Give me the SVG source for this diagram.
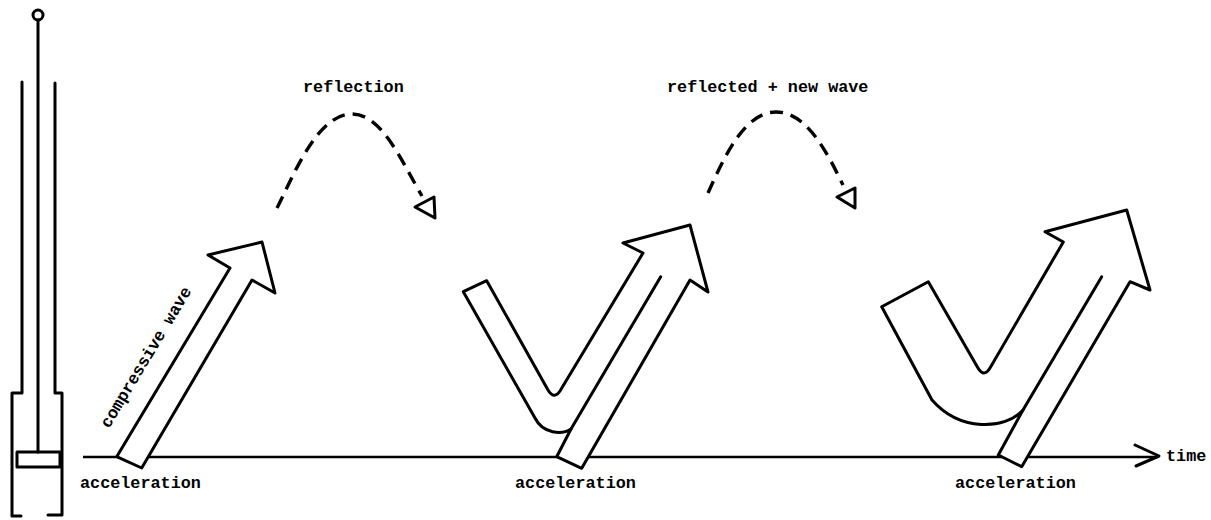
<svg xmlns="http://www.w3.org/2000/svg" width="1211" height="520" viewBox="0 0 1211 520">
  <style>
    .ln { fill: none; stroke: #000; stroke-width: 3; stroke-linecap: round; stroke-linejoin: round; }
    .shape { fill: #fff; stroke: #000; stroke-width: 3; stroke-linejoin: round; }
    .dash { fill: none; stroke: #000; stroke-width: 3.4; stroke-dasharray: 13 8; stroke-linecap: butt; }
    .head { fill: #fff; stroke: #000; stroke-width: 3; stroke-linejoin: round; }
    .lbl { font-family: "Liberation Mono", "DejaVu Sans Mono", monospace; font-size: 16.8px; font-weight: bold; fill: #000; }
  </style>

  <!-- tube with rod and piston -->
  <g id="apparatus">
    <circle cx="38" cy="15" r="5" class="ln"/>
    <line x1="38" y1="20" x2="38" y2="452" class="ln"/>
    <polyline points="22,82 22,393 12,393 12,516 21,516" class="ln"/>
    <polyline points="55,83 55,393 62,393 62,515 48,515" class="ln"/>
    <rect x="17" y="452" width="43" height="15" class="ln"/>
  </g>

  <!-- time axis and reflection paths -->
  <g id="connectors">
    <line x1="83" y1="457" x2="1158" y2="457" stroke="#000" stroke-width="2.4"/>
    <polyline points="1135,445 1159,456 1136,466" class="ln" stroke-width="3.5"/>
    <path d="M277,208 C295,172 318,114 352,114 C382,114 402,162 422,196" class="dash"/>
    <polygon points="415,207 434,197 435,218" class="head"/>
    <path d="M708,193 C725,155 745,112 776,112 C806,112 826,150 843,185" class="dash"/>
    <polygon points="837,197 855,188 855,208" class="head"/>
  </g>

  <!-- incident compressive wave -->
  <g id="wave1">
    <path d="M116.7,456.7 L230,268 L208,255 L262,242 L275,293 L252,280 L141.7,468 Z" class="shape"/>
    <text class="lbl" transform="translate(109,429) rotate(-59)">compressive wave</text>
  </g>

  <!-- reflected wave with second arrow -->
  <g id="wave2">
    <path d="M556.7,456.7 L571,429 C562,435 543,434 535,418 L463.3,291.7 L486.7,280.7 L548,390 Q554,400 560,391 L643,253 L623,243 L690,225 L708,292 L690,280 L581.7,468.3 Z" class="shape"/>
    <line x1="571" y1="429" x2="660.7" y2="276.7" class="ln"/>
  </g>

  <!-- reflected plus new wave -->
  <g id="wave3">
    <path d="M998.3,455 L1023,410 C1005,430 960,432 932,400 L881.7,306.7 L928.3,281.7 L978,368 Q984,378 990,368 L1063.3,242 L1045,231.7 L1126.7,210 L1150,290 L1130,281.7 L1021.7,466.7 Z" class="shape"/>
    <line x1="1023" y1="410" x2="1101.7" y2="276.7" class="ln"/>
  </g>

  <!-- labels -->
  <g id="labels">
    <text class="lbl" x="303" y="92">reflection</text>
    <text class="lbl" x="667" y="92">reflected + new wave</text>
    <text class="lbl" x="80" y="488">acceleration</text>
    <text class="lbl" x="515" y="488">acceleration</text>
    <text class="lbl" x="955" y="488">acceleration</text>
    <text class="lbl" x="1166" y="461">time</text>
  </g>
</svg>
